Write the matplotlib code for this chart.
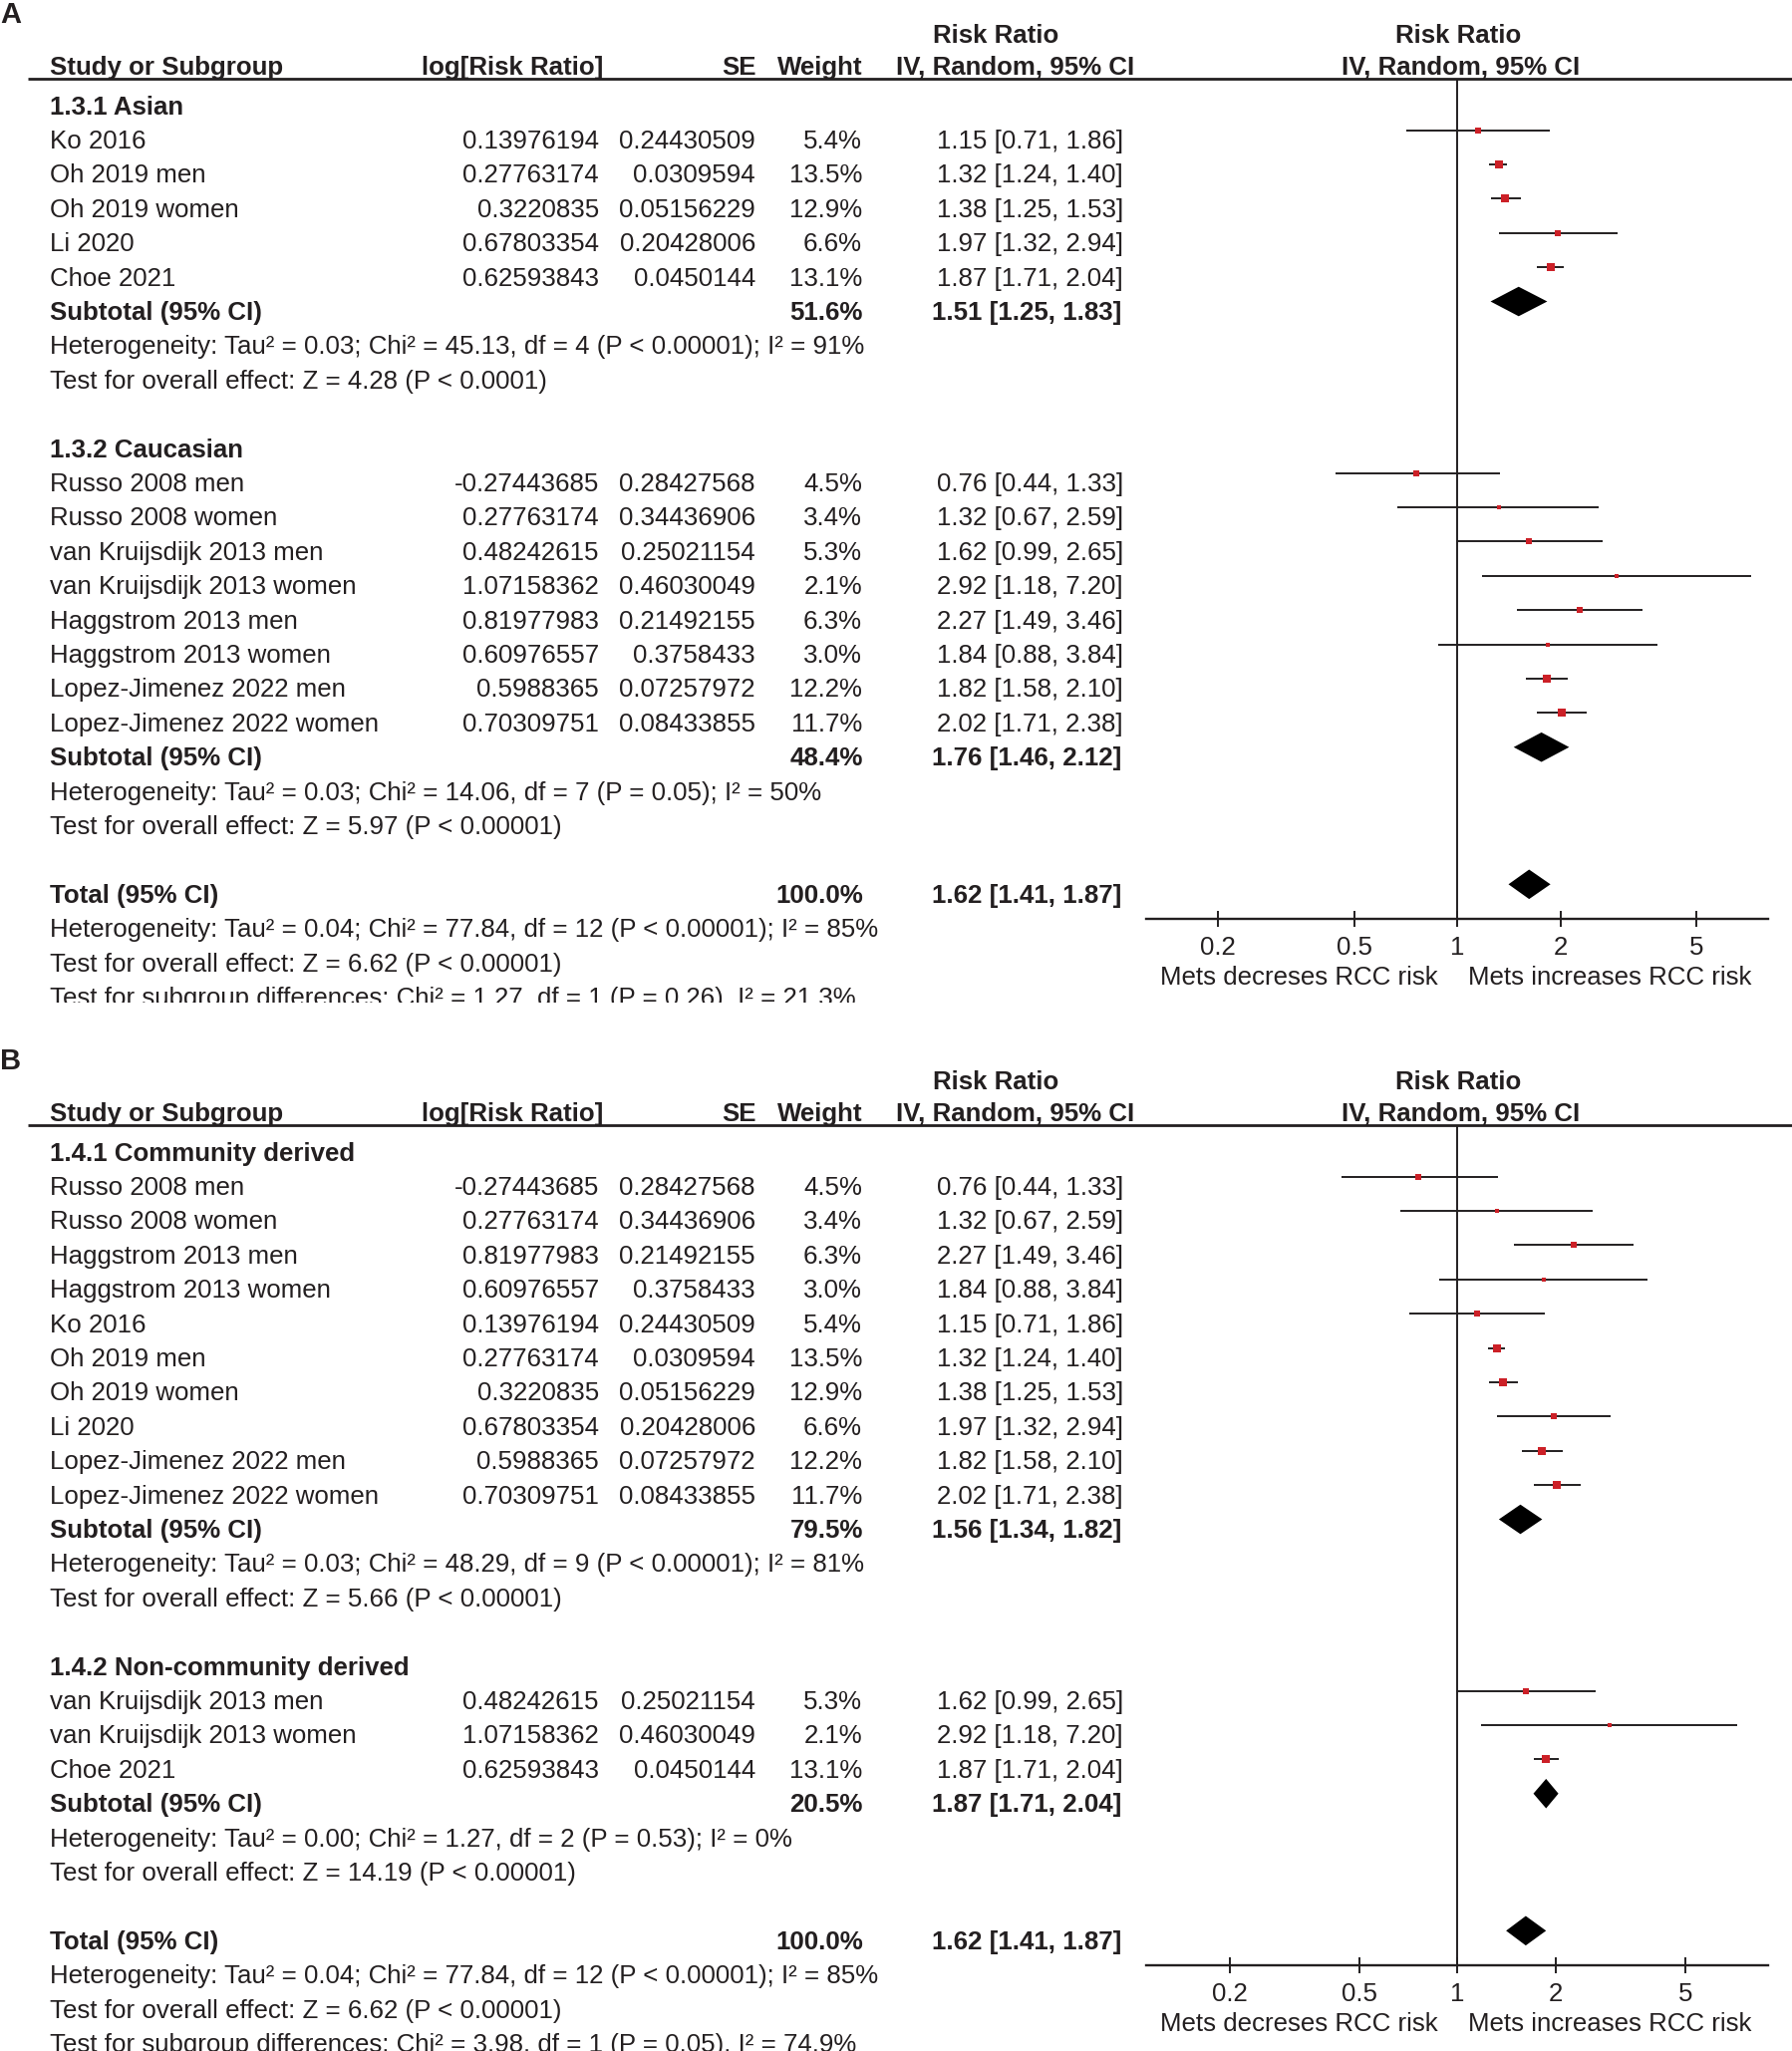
import matplotlib
matplotlib.use('Agg')
import matplotlib.pyplot as plt

plt.rcParams['font.family'] = ['Liberation Sans', 'DejaVu Sans']

W, H = 1799, 2058
ROW = 34.4          # pixel height of one table row
FS = 18.6
INK = '#231f20'
RED = '#cc2027'

# ---- study level data (RevMan output)
study = ['Ko 2016', 'Oh 2019 men', 'Oh 2019 women', 'Li 2020', 'Choe 2021',
         'Russo 2008 men', 'Russo 2008 women', 'van Kruijsdijk 2013 men',
         'van Kruijsdijk 2013 women', 'Haggstrom 2013 men', 'Haggstrom 2013 women',
         'Lopez-Jimenez 2022 men', 'Lopez-Jimenez 2022 women']
log_rr = [0.13976194, 0.27763174, 0.3220835, 0.67803354, 0.62593843,
          -0.27443685, 0.27763174, 0.48242615, 1.07158362, 0.81977983, 0.60976557,
          0.5988365, 0.70309751]
se = [0.24430509, 0.0309594, 0.05156229, 0.20428006, 0.0450144,
      0.28427568, 0.34436906, 0.25021154, 0.46030049, 0.21492155, 0.3758433,
      0.07257972, 0.08433855]
weight = [5.4, 13.5, 12.9, 6.6, 13.1, 4.5, 3.4, 5.3, 2.1, 6.3, 3.0, 12.2, 11.7]
rr = [1.15, 1.32, 1.38, 1.97, 1.87, 0.76, 1.32, 1.62, 2.92, 2.27, 1.84, 1.82, 2.02]
rr_lo = [0.71, 1.24, 1.25, 1.32, 1.71, 0.44, 0.67, 0.99, 1.18, 1.49, 0.88, 1.58, 1.71]
rr_hi = [1.86, 1.40, 1.53, 2.94, 2.04, 1.33, 2.59, 2.65, 7.20, 3.46, 3.84, 2.10, 2.38]

# ---- panel A: ethnicity
a_titles = ['1.3.1 Asian', '1.3.2 Caucasian']
a_members = [['Ko 2016', 'Oh 2019 men', 'Oh 2019 women', 'Li 2020', 'Choe 2021'],
             ['Russo 2008 men', 'Russo 2008 women', 'van Kruijsdijk 2013 men',
              'van Kruijsdijk 2013 women', 'Haggstrom 2013 men', 'Haggstrom 2013 women',
              'Lopez-Jimenez 2022 men', 'Lopez-Jimenez 2022 women']]
a_sub_weight = [51.6, 48.4]
a_sub_rr = [1.51, 1.76]
a_sub_lo = [1.25, 1.46]
a_sub_hi = [1.83, 2.12]
a_het = ['Heterogeneity: Tau² = 0.03; Chi² = 45.13, df = 4 (P < 0.00001); I² = 91%',
         'Heterogeneity: Tau² = 0.03; Chi² = 14.06, df = 7 (P = 0.05); I² = 50%']
a_test = ['Test for overall effect: Z = 4.28 (P < 0.0001)',
          'Test for overall effect: Z = 5.97 (P < 0.00001)']
a_diff = 'Test for subgroup differences: Chi² = 1.27, df = 1 (P = 0.26), I² = 21.3%'

# ---- panel B: population source
b_titles = ['1.4.1 Community derived', '1.4.2 Non-community derived']
b_members = [['Russo 2008 men', 'Russo 2008 women', 'Haggstrom 2013 men',
              'Haggstrom 2013 women', 'Ko 2016', 'Oh 2019 men', 'Oh 2019 women',
              'Li 2020', 'Lopez-Jimenez 2022 men', 'Lopez-Jimenez 2022 women'],
             ['van Kruijsdijk 2013 men', 'van Kruijsdijk 2013 women', 'Choe 2021']]
b_sub_weight = [79.5, 20.5]
b_sub_rr = [1.56, 1.87]
b_sub_lo = [1.34, 1.71]
b_sub_hi = [1.82, 2.04]
b_het = ['Heterogeneity: Tau² = 0.03; Chi² = 48.29, df = 9 (P < 0.00001); I² = 81%',
         'Heterogeneity: Tau² = 0.00; Chi² = 1.27, df = 2 (P = 0.53); I² = 0%']
b_test = ['Test for overall effect: Z = 5.66 (P < 0.00001)',
          'Test for overall effect: Z = 14.19 (P < 0.00001)']
b_diff = 'Test for subgroup differences: Chi² = 3.98, df = 1 (P = 0.05), I² = 74.9%'

# ---- overall (same in both panels)
tot_rr, tot_lo, tot_hi = 1.62, 1.41, 1.87
tot_het = 'Heterogeneity: Tau² = 0.04; Chi² = 77.84, df = 12 (P < 0.00001); I² = 85%'
tot_test = 'Test for overall effect: Z = 6.62 (P < 0.00001)'

ticks = [0.2, 0.5, 1, 2, 5]


def rect(x0, y0, x1, y1):
    return [x0 / W, 1 - y1 / H, (x1 - x0) / W, (y1 - y0) / H]


def ci_str(a, b, c):
    return f'{a:.2f} [{b:.2f}, {c:.2f}]'


def draw_panel(fig, letter, y0, top, bot, titles, members, sw, srr, slo, shi,
               het, test, diff, xlim):
    tax = fig.add_axes(rect(0, top, W, bot))
    tax.set_xlim(0, W)
    tax.set_ylim((bot - y0) / ROW, (top - y0) / ROW)
    tax.axis('off')

    def put(x, r, s, ha='left', bold=False, size=FS):
        tax.text(x, r, s, ha=ha, va='baseline', fontsize=size, color=INK,
                 fontweight='bold' if bold else 'normal', clip_on=True)

    # headers
    put(0, -2.33, letter, bold=True, size=21)
    put(999, -1.75, 'Risk Ratio', ha='center', bold=True)
    put(1463, -1.75, 'Risk Ratio', ha='center', bold=True)
    put(50, -0.81, 'Study or Subgroup', bold=True)
    put(605, -0.81, 'log[Risk Ratio]', ha='right', bold=True)
    put(759, -0.81, 'SE', ha='right', bold=True)
    put(866, -0.81, 'Weight', ha='right', bold=True)
    put(1019, -0.81, 'IV, Random, 95% CI', ha='center', bold=True)
    put(1466, -0.81, 'IV, Random, 95% CI', ha='center', bold=True)
    tax.plot([27.6, W], [-0.70, -0.70], color=INK, lw=2.0, solid_capstyle='butt')

    total_row = sum(len(m) for m in members) + 5 * len(titles)
    ax_row = total_row + 0.8
    fax = fig.add_axes(rect(1150, y0 - 0.70 * ROW, 1774.5, y0 + ax_row * ROW))
    fax.set_xscale('log')
    fax.set_xlim(*xlim)
    fax.set_ylim(ax_row, -0.70)
    fax.patch.set_alpha(0)
    for s in ['top', 'left', 'right']:
        fax.spines[s].set_visible(False)
    fax.spines['bottom'].set_linewidth(1.7)
    fax.spines['bottom'].set_color(INK)
    fax.set_yticks([])
    fax.set_xticks(ticks)
    fax.set_xticklabels([f'{t:g}' for t in ticks])
    fax.minorticks_off()
    fax.tick_params(axis='x', direction='inout', length=11.5, width=1.4,
                    colors=INK, labelsize=FS, pad=7)
    fax.axvline(1, color=INK, lw=1.4, zorder=1)

    def diamond(r, c, lo, hi):
        h = 0.43
        fax.fill([lo, c, hi, c], [r, r - h, r, r + h], color='black', lw=0, zorder=3)

    r = 0
    for g in range(len(titles)):
        put(50, r + 0.34, titles[g], bold=True)
        r += 1
        for name in members[g]:
            i = study.index(name)
            put(50, r + 0.34, name)
            put(601, r + 0.34, str(log_rr[i]), ha='right')
            put(758, r + 0.34, str(se[i]), ha='right')
            put(865, r + 0.34, f'{weight[i]:.1f}%', ha='right')
            put(1127, r + 0.34, ci_str(rr[i], rr_lo[i], rr_hi[i]), ha='right')
            fax.plot([rr_lo[i], rr_hi[i]], [r - 0.2, r - 0.2], color=INK, lw=1.4,
                     solid_capstyle='butt', zorder=2)
            fax.plot([rr[i]], [r - 0.2], marker='s', ms=1.76 * weight[i] ** 0.5,
                     color=RED, mew=0, zorder=4)
            r += 1
        put(50, r + 0.34, 'Subtotal (95% CI)', bold=True)
        put(866, r + 0.34, f'{sw[g]:.1f}%', ha='right', bold=True)
        put(1125, r + 0.34, ci_str(srr[g], slo[g], shi[g]), ha='right', bold=True)
        diamond(r - 0.2, srr[g], slo[g], shi[g])
        r += 1
        put(50, r + 0.34, het[g])
        r += 1
        put(50, r + 0.34, test[g])
        r += 2

    put(50, r + 0.34, 'Total (95% CI)', bold=True)
    put(866, r + 0.34, '100.0%', ha='right', bold=True)
    put(1125, r + 0.34, ci_str(tot_rr, tot_lo, tot_hi), ha='right', bold=True)
    diamond(r - 0.2, tot_rr, tot_lo, tot_hi)
    put(50, r + 1.34, tot_het)
    put(50, r + 2.34, tot_test)
    put(50, r + 3.34, diff)
    put(1303, r + 2.73, 'Mets decreses RCC risk', ha='center')
    put(1615, r + 2.73, 'Mets increases RCC risk', ha='center')


fig = plt.figure(figsize=(W / 100, H / 100), dpi=100)
fig.patch.set_facecolor('white')

draw_panel(fig, 'A', 103, 0, 1006, a_titles, a_members, a_sub_weight, a_sub_rr,
           a_sub_lo, a_sub_hi, a_het, a_test, a_diff, (0.1235, 8.1))
draw_panel(fig, 'B', 1153, 1006, H, b_titles, b_members, b_sub_weight, b_sub_rr,
           b_sub_lo, b_sub_hi, b_het, b_test, b_diff, (0.111, 9.0))

fig.savefig('out.png', dpi=100)
